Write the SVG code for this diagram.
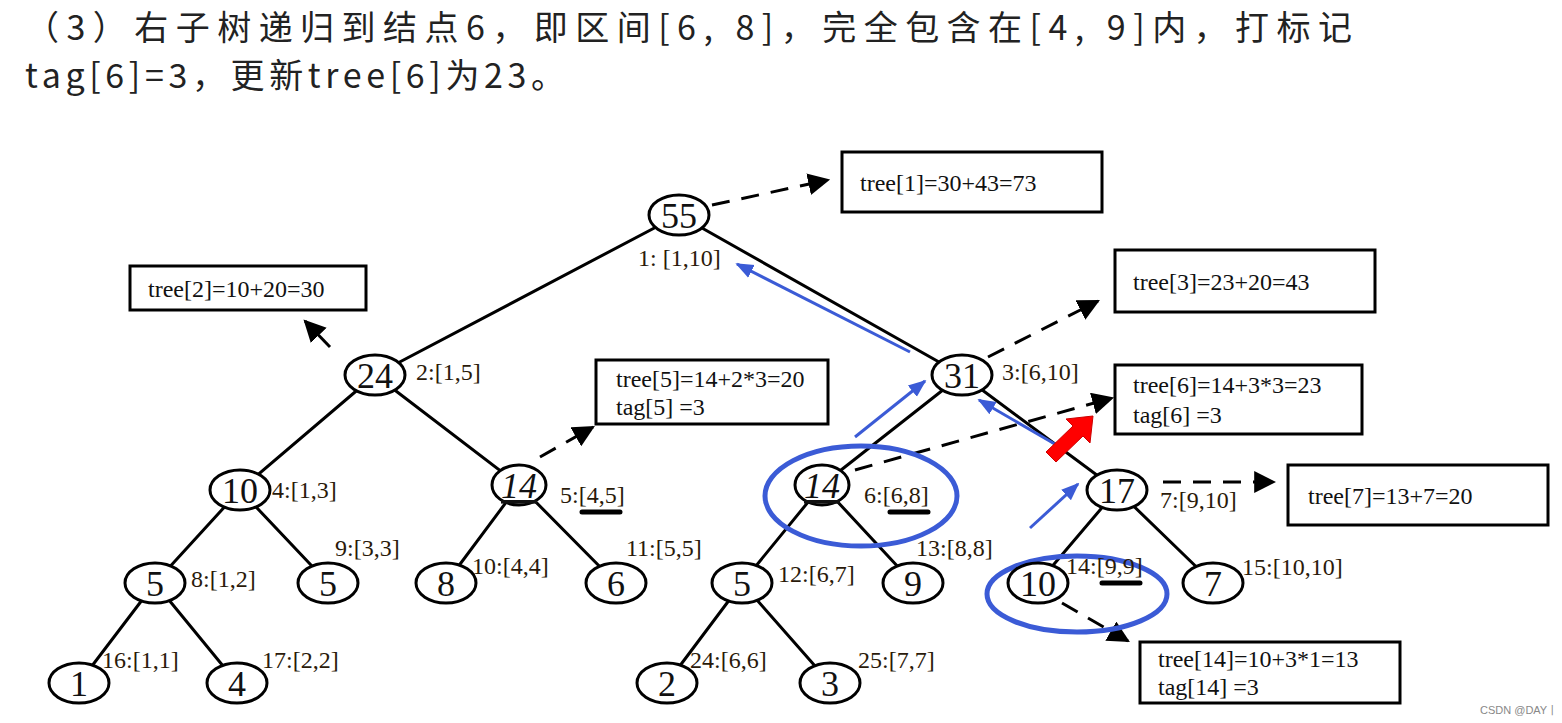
<svg xmlns="http://www.w3.org/2000/svg" width="1562" height="723" viewBox="0 0 1562 723">
<defs>
<style>
.n ellipse{fill:#fff;stroke:#000;stroke-width:3}
.n text{font-family:"Liberation Serif",serif;font-size:36px;text-anchor:middle;fill:#111}
.l{font-family:"Liberation Serif",serif;font-size:24px;fill:#2a1a0a}
.b rect{fill:#fff;stroke:#000;stroke-width:3}
.b text{font-family:"Liberation Serif",serif;font-size:24px;fill:#111}
.e{stroke:#000;stroke-width:3;fill:none}
.d{stroke:#000;stroke-width:3;fill:none;stroke-dasharray:18 12;marker-end:url(#ah)}
.bl{stroke:#3b5bd6;stroke-width:3;fill:none;marker-end:url(#bh)}
.t{font-family:"Noto Sans CJK SC",sans-serif;font-size:34px;fill:#222}
.bar{stroke:#000;stroke-width:5;stroke-linecap:round}
</style>
<marker id="ah" viewBox="0 0 10 10" refX="9" refY="5" markerWidth="22" markerHeight="22" markerUnits="userSpaceOnUse" orient="auto"><path d="M0,0L10,5L0,10z" fill="#000"/></marker>
<marker id="bh" viewBox="0 0 10 10" refX="9" refY="5" markerWidth="18" markerHeight="18" markerUnits="userSpaceOnUse" orient="auto"><path d="M0,1L10,5L0,9z" fill="#3b5bd6"/></marker>
</defs>
<rect width="1562" height="723" fill="#fff"/>
<text class="t" x="25" y="40" textLength="1327" lengthAdjust="spacing">（3）右子树递归到结点6，即区间[6, 8]，完全包含在[4, 9]内，打标记</text>
<text class="t" x="25" y="88" textLength="540" lengthAdjust="spacing">tag[6]=3，更新tree[6]为23。</text>
<g id="connectors">
<path class="e" d="M679,215L375,375M679,215L962,375M375,375L240,490M375,375L519,485M962,375L822,485M962,375L1117,490M240,490L155,583M240,490L328,583M519,485L446,583M519,485L616,583M822,485L742,583M822,485L913,583M1117,490L1038,583M1117,490L1213,583M155,583L79,683M155,583L237,683M742,583L667,683M742,583L830,683"/>
<path class="d" d="M712,205L828,180"/>
<path class="e" d="M330,347L305,321" marker-end="url(#ah)"/>
<path class="d" d="M540,457L593,427"/>
<path class="d" d="M988,357L1098,301"/>
<path class="d" d="M855,470L1112,398"/>
<path class="d" d="M1163,482L1274,482"/>
<path class="d" d="M1062,603L1128,641"/>
<path class="bl" d="M910,352L737,264"/>
<path class="bl" d="M855,437L925,381"/>
<path class="bl" d="M1060,447L979,400"/>
<path class="bl" d="M1030,528L1078,484"/>
<path d="M1046,452L1073,426L1066,419L1093,416L1090,443L1083,436L1056,462z" fill="#f00" stroke="#c00" stroke-width="1"/>
<ellipse cx="861" cy="496" rx="96" ry="50" fill="none" stroke="#3b5bd6" stroke-width="5"/>
<ellipse cx="1077" cy="594" rx="90" ry="38" fill="none" stroke="#3b5bd6" stroke-width="5"/>
</g>
<g id="n1" class="n"><ellipse cx="679" cy="215" rx="30" ry="20"/><text x="679" y="228">55</text></g>
<g id="n2" class="n"><ellipse cx="375" cy="375" rx="30" ry="20"/><text x="375" y="388">24</text></g>
<g id="n3" class="n"><ellipse cx="962" cy="375" rx="30" ry="20"/><text x="962" y="388">31</text></g>
<g id="n4" class="n"><ellipse cx="240" cy="490" rx="30" ry="20"/><text x="240" y="503">10</text></g>
<g id="n5" class="n"><ellipse cx="519" cy="485" rx="27" ry="20"/><text x="519" y="498" font-style="italic" text-decoration="underline">14</text></g>
<g id="n6" class="n"><ellipse cx="822" cy="485" rx="27" ry="20"/><text x="822" y="498" font-style="italic" text-decoration="underline">14</text></g>
<g id="n7" class="n"><ellipse cx="1117" cy="490" rx="30" ry="20"/><text x="1117" y="503">17</text></g>
<g id="n8" class="n"><ellipse cx="155" cy="583" rx="30" ry="20"/><text x="155" y="596">5</text></g>
<g id="n9" class="n"><ellipse cx="328" cy="583" rx="30" ry="20"/><text x="328" y="596">5</text></g>
<g id="n10" class="n"><ellipse cx="446" cy="583" rx="30" ry="20"/><text x="446" y="596">8</text></g>
<g id="n11" class="n"><ellipse cx="616" cy="583" rx="30" ry="20"/><text x="616" y="596">6</text></g>
<g id="n12" class="n"><ellipse cx="742" cy="583" rx="30" ry="20"/><text x="742" y="596">5</text></g>
<g id="n13" class="n"><ellipse cx="913" cy="583" rx="30" ry="20"/><text x="913" y="596">9</text></g>
<g id="n14" class="n"><ellipse cx="1038" cy="583" rx="30" ry="20"/><text x="1038" y="596">10</text></g>
<g id="n15" class="n"><ellipse cx="1213" cy="583" rx="30" ry="20"/><text x="1213" y="596">7</text></g>
<g id="n16" class="n"><ellipse cx="79" cy="683" rx="30" ry="20"/><text x="79" y="696">1</text></g>
<g id="n17" class="n"><ellipse cx="237" cy="683" rx="30" ry="20"/><text x="237" y="696">4</text></g>
<g id="n24" class="n"><ellipse cx="667" cy="683" rx="30" ry="20"/><text x="667" y="696">2</text></g>
<g id="n25" class="n"><ellipse cx="830" cy="683" rx="30" ry="20"/><text x="830" y="696">3</text></g>
<g id="labels">
<text class="l" x="638" y="266">1: [1,10]</text>
<text class="l" x="416" y="380">2:[1,5]</text>
<text class="l" x="1002" y="380">3:[6,10]</text>
<text class="l" x="272" y="498">4:[1,3]</text>
<text class="l" x="560" y="503">5:[4,5]</text>
<text class="l" x="864" y="503">6:[6,8]</text>
<text class="l" x="1160" y="508">7:[9,10]</text>
<text class="l" x="191" y="587">8:[1,2]</text>
<text class="l" x="335" y="556">9:[3,3]</text>
<text class="l" x="472" y="574">10:[4,4]</text>
<text class="l" x="626" y="556">11:[5,5]</text>
<text class="l" x="778" y="582">12:[6,7]</text>
<text class="l" x="916" y="556">13:[8,8]</text>
<text class="l" x="1066" y="574">14:[9,9]</text>
<text class="l" x="1242" y="575">15:[10,10]</text>
<text class="l" x="102" y="668">16:[1,1]</text>
<text class="l" x="262" y="668">17:[2,2]</text>
<text class="l" x="690" y="668">24:[6,6]</text>
<text class="l" x="858" y="668">25:[7,7]</text>
<path class="bar" d="M582,512H620M890,512H928M1102,583H1140"/>
</g>
<g id="b1" class="b"><rect x="842" y="152" width="260" height="60"/><text x="860" y="191">tree[1]=30+43=73</text></g>
<g id="b2" class="b"><rect x="130" y="266" width="236" height="44"/><text x="148" y="297">tree[2]=10+20=30</text></g>
<g id="b3" class="b"><rect x="1115" y="250" width="260" height="62"/><text x="1133" y="290">tree[3]=23+20=43</text></g>
<g id="b5" class="b"><rect x="596" y="360" width="232" height="64"/><text x="616" y="387">tree[5]=14+2*3=20</text><text x="616" y="415">tag[5] =3</text></g>
<g id="b6" class="b"><rect x="1115" y="365" width="247" height="69"/><text x="1133" y="393">tree[6]=14+3*3=23</text><text x="1133" y="423">tag[6] =3</text></g>
<g id="b7" class="b"><rect x="1288" y="465" width="260" height="60"/><text x="1308" y="504">tree[7]=13+7=20</text></g>
<g id="b14" class="b"><rect x="1140" y="642" width="260" height="61"/><text x="1158" y="667">tree[14]=10+3*1=13</text><text x="1158" y="695">tag[14] =3</text></g>
<text x="1480" y="714" font-family="Liberation Sans,sans-serif" font-size="11" fill="#888">CSDN @DAY丨</text>
</svg>
